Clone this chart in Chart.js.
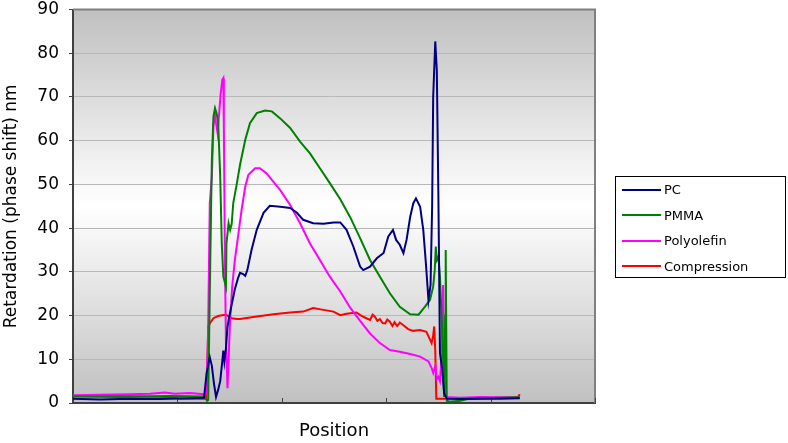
<!DOCTYPE html>
<html lang="en">

<head>
    <meta charset="UTF-8">
    <title>Retardation chart</title>
    <script src="https://cdn.jsdelivr.net/npm/chart.js@4.4.0/dist/chart.umd.min.js"></script>
    <style>
        body {
            margin: 0;
            background: #fff;
        }

        .chart-container {
            position: relative;
            width: 788px;
            height: 443px;
        }

        .legend {
            position: absolute;
            left: 615px;
            top: 176px;
            width: 171px;
            height: 102px;
            border: 1px solid #000;
            font-family: 'DejaVu Sans', sans-serif;
            font-size: 13px;
            box-sizing: border-box;
            padding-top: 0px;
        }

        .legend-row {
            display: flex;
            align-items: center;
            height: 25.5px;
        }

        .legend-line {
            width: 39px;
            height: 2px;
            margin-left: 6px;
            margin-right: 3px;
        }
    </style>
</head>

<body>
    <div class="chart-container">
        <canvas id="myChart" width="788" height="443"></canvas>
        <div class="legend" id="legend"></div>
    </div>

    <script>
        const seriesNames = ['PC', 'PMMA', 'Polyolefin', 'Compression'];
        const seriesColors = ['#000080', '#008000', '#ff00ff', '#ff0000'];

        // PC
        const pcX = [0, 26, 54.5, 83, 112, 125.5, 128, 131, 133, 135, 137, 139, 141, 143, 144, 145, 146.5, 148, 149.5,
            152, 155, 158, 160, 163, 165, 167, 171, 176, 182.5, 188.5, 198.5, 208, 214.5, 220.5, 230, 240, 249.5, 256,
            262, 268.5, 275, 278, 284.5, 291, 297.5, 302, 306.5, 309.5, 313, 316.5, 319.5, 323, 326, 328.5, 332.5,
            335.5, 338, 340.5, 342.5, 344, 345, 347, 348.5, 350, 351.5, 353.5, 355.5, 358, 371, 390, 409, 428];
        const pcY = [1.0, 0.8, 1.0, 0.9, 1.1, 1.2, 6.9, 10.5, 8.5, 4.5, 1.4, 3.0, 5.0, 9.5, 12.0, 9.5, 12.5, 17.5, 19.5,
            22.5, 26.0, 28.5, 29.8, 29.5, 29.1, 30.4, 35.0, 39.6, 43.5, 45.1, 44.9, 44.6, 43.5, 41.9, 41.1, 41.0, 41.3, 41.3,
            39.6, 35.8, 31.2, 30.4, 31.2, 33.1, 34.3, 38.1, 39.6, 37.3, 36.2, 34.3, 37.3, 42.6, 45.7, 46.8, 44.9,
            39.6, 32.0, 23.5, 27.0, 45.0, 70.0, 82.7, 76.0, 47.0, 11.4, 8.0, 2.2, 1.0, 0.9, 1.0, 1.0, 1.1];

        // PMMA
        const pmmaX = [0, 45, 93, 125.5, 128.5, 129.5, 131, 133, 134.5, 136, 137.5, 139, 141, 142.5, 144, 146.5, 147, 149,
            150.5, 152, 153.5, 157, 160, 165, 169.5, 176, 184, 190.5, 198.5, 208, 217.5, 227, 236.5, 246, 256, 265.5,
            275, 284.5, 294, 303.5, 313, 323, 331, 337, 342, 345, 346.5, 347.5, 348.5, 350, 351.5, 354, 355.5, 356.5,
            357, 358, 361, 371, 380, 409, 428];
        const pmmaY = [1.5, 1.4, 1.6, 1.5, 0.5, 0.7, 25.0, 55.6, 65.5, 67.4, 66.3, 64.4, 51.8, 36.5, 28.9, 26.6, 36.5, 41.1,
            39.6, 41.0, 45.7, 50.3, 54.5, 60.2, 64.0, 66.3, 66.9, 66.7, 65.1, 62.9, 59.8, 57.1, 53.7, 50.3, 46.6, 42.5,
            37.7, 32.7, 28.9, 25.1, 22.0, 20.3, 20.2, 22.0, 23.6, 26.6, 30.4, 35.8, 32.7, 33.5, 28.9, 14.4, 1.4, 20.0,
            35.0, 0.5, 0.3, 0.5, 1.0, 1.2, 1.3];

        // Polyolefin
        const polyX = [0, 26, 54.5, 74, 88, 97.5, 112, 125.5, 128, 129.5, 131, 133, 134.5, 136, 137, 138.5, 140, 141.5,
            143, 144, 144.5, 145.5, 146.5, 148, 149, 150.5, 152.5, 155, 158.5, 161.5, 165, 168, 174.5, 179, 185.5, 192,
            198.5, 208, 217.5, 227, 236.5, 246, 256, 265.5, 275, 284.5, 294, 303.5, 313, 323, 332.5, 340.5, 343.5, 345,
            347, 348.5, 350, 351.5, 353, 354.5, 355.5, 357, 371, 390, 409, 428];
        const polyY = [1.8, 1.9, 2.0, 2.1, 2.4, 2.1, 2.3, 2.0, 2.2, 17.5, 45.7, 51.8, 63.2, 66.3, 64.0, 61.7, 66.3, 70.9,
            73.9, 74.3, 63.2, 32.7, 13.7, 3.4, 9.8, 19.0, 26.6, 32.7, 38.8, 44.2, 49.5, 52.2, 53.7, 53.7, 52.5, 50.6,
            48.7, 45.3, 41.1, 36.5, 32.7, 28.9, 25.5, 21.8, 18.8, 15.9, 13.7, 12.1, 11.7, 11.2, 10.6, 9.5, 8.0, 6.9,
            8.5, 5.5, 6.0, 5.0, 10.0, 27.0, 10.0, 1.4, 1.2, 1.4, 1.3, 1.3];

        // Compression
        const compX = [0, 45, 93, 102.5, 125.5, 127.5, 129, 129.5, 131, 134.5, 139, 144, 147, 152, 157, 160, 176, 192, 208,
            220.5, 230, 240, 249.5, 256, 262, 271.5, 276, 280, 284.5, 287, 289, 291.5, 294, 296.5, 299, 301, 303.5,
            306, 308, 310.5, 313, 316.5, 321, 326, 332.5, 338.5, 343.5, 345, 346, 347, 348, 361, 390, 409, 426, 428];
        const compY = [1.6, 1.6, 1.4, 1.0, 1.0, 1.2, 11.4, 17.5, 18.2, 19.4, 19.9, 20.1, 20.1, 19.4, 19.2, 19.2, 19.8, 20.3,
            20.7, 20.9, 21.7, 21.3, 20.9, 20.1, 20.4, 20.7, 20.0, 19.5, 19.0, 20.2, 19.8, 18.8, 19.2, 18.3, 18.2, 19.1,
            18.6, 17.6, 18.5, 17.6, 18.4, 17.8, 16.9, 16.5, 16.7, 16.3, 13.7, 15.5, 17.5, 12.0, 1.0, 1.0, 1.1, 1.2, 1.3,
            2.0];

        const xs = [pcX, pmmaX, polyX, compX];
        const ys = [pcY, pmmaY, polyY, compY];

        const yTicks = [0, 10, 20, 30, 40, 50, 60, 70, 80, 90];
        const xTicks = [0, 100, 200, 300, 400, 500];

        const datasets = seriesNames.map((name, i) => ({
            label: name,
            data: xs[i].map((x, j) => ({ x: x, y: ys[i][j] })),
            borderColor: seriesColors[i],
            backgroundColor: seriesColors[i],
            borderWidth: 2,
            pointRadius: 0,
            tension: 0
        }));

        // gradient background + frame + inside x ticks
        const plotDeco = {
            id: 'plotDeco',
            beforeDatasetsDraw(chart) {
                const { ctx, chartArea: a } = chart;
                ctx.save();
                ctx.strokeStyle = '#808080';
                ctx.lineWidth = 2;
                ctx.beginPath();
                ctx.moveTo(a.left, a.top);
                ctx.lineTo(a.right, a.top);
                ctx.lineTo(a.right, a.bottom);
                ctx.stroke();
                const xs = chart.scales.x;
                ctx.strokeStyle = '#404040';
                ctx.lineWidth = 1;
                xTicks.forEach(v => {
                    const px = Math.round(xs.getPixelForValue(v)) + 0.5;
                    ctx.beginPath();
                    ctx.moveTo(px, a.bottom);
                    ctx.lineTo(px, a.bottom - 5);
                    ctx.stroke();
                });
                ctx.restore();
            },
            beforeDraw(chart) {
                const { ctx, chartArea: a } = chart;
                const g = ctx.createLinearGradient(0, a.top, 0, a.bottom);
                g.addColorStop(0, '#c0c0c0');
                g.addColorStop(0.5, '#ffffff');
                g.addColorStop(1, '#c0c0c0');
                ctx.save();
                ctx.fillStyle = g;
                ctx.fillRect(a.left, a.top, a.right - a.left, a.bottom - a.top);
                ctx.restore();
            }
        };

        const config = {
            type: 'line',
            data: { datasets },
            options: {
                responsive: false,
                animation: false,
                layout: {
                    padding: { left: 0, right: 193, top: 9.5, bottom: 0 }
                },
                plugins: {
                    legend: { display: false },
                    tooltip: { enabled: false }
                },
                scales: {
                    x: {
                        type: 'linear',
                        min: 0,
                        max: 500,
                        afterBuildTicks: s => { s.ticks = xTicks.map(v => ({ value: v })); },
                        afterFit: s => { s.height = 40; },
                        ticks: { display: false },
                        grid: { display: false },
                        border: { display: true, color: '#404040', width: 2 },
                        title: {
                            display: true,
                            text: 'Position',
                            color: '#000',
                            font: { family: 'DejaVu Sans', size: 18 },
                            padding: { top: 0, bottom: 1 }
                        }
                    },
                    y: {
                        min: 0,
                        max: 90,
                        afterBuildTicks: s => { s.ticks = yTicks.map(v => ({ value: v })); },
                        afterFit: s => {
                            s.width = 73;
                            s.paddingTop = 0;
                            s.paddingBottom = 0;
                        },
                        ticks: {
                            color: '#000',
                            padding: 10,
                            font: { family: 'DejaVu Sans', size: 17 }
                        },
                        grid: {
                            color: '#b8b8b8',
                            tickColor: '#404040',
                            tickLength: 4
                        },
                        border: { display: true, color: '#404040', width: 2 },
                        title: {
                            display: true,
                            text: 'Retardation (phase shift) nm',
                            color: '#000',
                            font: { family: 'DejaVu Sans', size: 17 },
                            padding: { top: 1, bottom: 0 }
                        }
                    }
                }
            },
            plugins: [plotDeco]
        };

        const ctx = document.getElementById('myChart').getContext('2d');
        const myChart = new Chart(ctx, config);

        // legend box
        const legend = document.getElementById('legend');
        seriesNames.forEach((name, i) => {
            const row = document.createElement('div');
            row.className = 'legend-row';
            const line = document.createElement('div');
            line.className = 'legend-line';
            line.style.background = seriesColors[i];
            const txt = document.createElement('span');
            txt.textContent = name;
            row.appendChild(line);
            row.appendChild(txt);
            legend.appendChild(row);
        });
    </script>

</body>

</html>
